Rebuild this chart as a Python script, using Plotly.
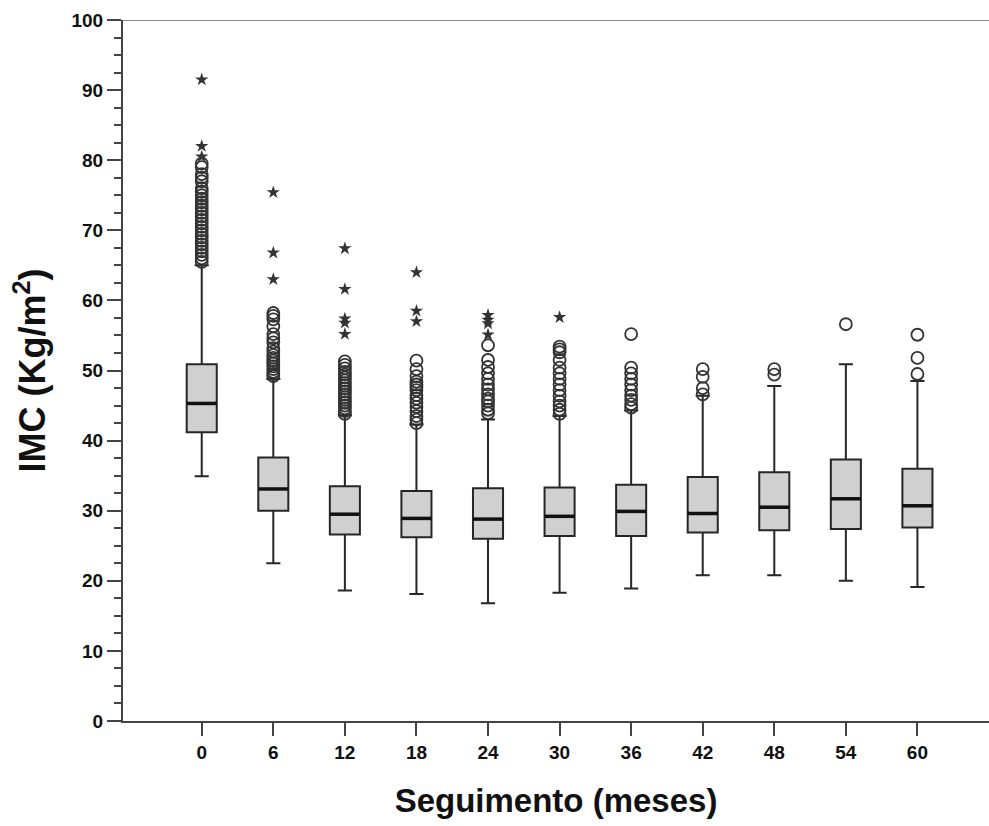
import plotly.graph_objects as go

categories = ["0", "6", "12", "18", "24", "30", "36", "42", "48", "54", "60"]
q1 = [41.2, 30.0, 26.6, 26.2, 26.0, 26.4, 26.4, 26.9, 27.2, 27.4, 27.6]
median = [45.3, 33.1, 29.5, 28.9, 28.8, 29.2, 29.9, 29.6, 30.5, 31.7, 30.7]
q3 = [50.9, 37.6, 33.5, 32.8, 33.2, 33.3, 33.7, 34.8, 35.5, 37.3, 36.0]
lower_whisker = [34.9, 22.5, 18.6, 18.1, 16.8, 18.3, 18.9, 20.8, 20.8, 20.0, 19.1]
upper_whisker = [65.0, 48.8, 43.6, 42.3, 43.0, 43.5, 44.3, 46.4, 47.8, 50.9, 48.5]

circle_outliers = [
    [65.5, 66.0, 66.5, 67.0, 67.5, 68.0, 68.5, 69.0, 69.5, 70.0, 70.5, 71.0, 71.5,
     72.0, 72.5, 73.0, 73.5, 74.0, 74.5, 75.0, 75.5, 76.0, 77.0, 77.5, 78.0, 79.0, 79.5],
    [49.2, 49.5, 49.8, 50.2, 50.6, 51.0, 51.4, 51.8, 52.2, 52.7, 53.2, 54.0, 54.6,
     55.2, 56.3, 57.3, 57.8, 58.2],
    [43.8, 44.2, 44.6, 45.0, 45.4, 45.8, 46.2, 46.6, 47.0, 47.4, 47.8, 48.2, 48.6,
     49.0, 49.4, 49.8, 50.3, 50.8, 51.3],
    [42.5, 43.0, 43.5, 44.2, 44.8, 45.4, 46.0, 46.5, 47.2, 47.6, 48.0, 48.4, 49.2,
     50.2, 51.4],
    [43.9, 44.4, 45.0, 45.6, 46.0, 46.6, 47.3, 48.0, 48.8, 49.6, 50.5, 51.5, 53.6],
    [43.8, 44.4, 45.0, 45.6, 46.4, 47.2, 48.0, 48.8, 49.6, 50.4, 51.5, 52.6, 53.0, 53.4],
    [44.7, 45.2, 45.8, 46.4, 47.2, 48.0, 48.8, 49.6, 50.4, 55.2],
    [46.6, 47.5, 49.1, 50.2],
    [49.4, 50.2],
    [56.6],
    [49.5, 51.8, 55.1],
]
star_outliers = [
    [80.5, 82.0, 91.5],
    [63.0, 66.8, 75.4],
    [55.2, 56.8, 57.4, 61.6, 67.4],
    [57.0, 58.5, 64.0],
    [55.1, 56.7, 57.2, 57.9],
    [57.6],
    [], [], [], [], [],
]

xs = list(range(len(categories)))
box_w = 0.42

fig = go.Figure()
fig.add_trace(go.Box(
    x=xs, q1=q1, median=median, q3=q3,
    lowerfence=lower_whisker, upperfence=upper_whisker,
    width=box_w, whiskerwidth=0.47,
    fillcolor="#d0d0d0", line=dict(color="#262626", width=2),
    boxpoints=False, showlegend=False, hoverinfo="skip",
))

# thick medians
mx, my = [], []
for i, m in zip(xs, median):
    mx += [i - box_w / 2, i + box_w / 2, None]
    my += [m, m, None]
fig.add_trace(go.Scatter(x=mx, y=my, mode="lines",
                         line=dict(color="#111", width=3.5),
                         showlegend=False, hoverinfo="skip"))

cx, cy, sx, sy = [], [], [], []
for i in xs:
    cx += [i] * len(circle_outliers[i]); cy += circle_outliers[i]
    sx += [i] * len(star_outliers[i]); sy += star_outliers[i]

fig.add_trace(go.Scatter(x=cx, y=cy, mode="markers",
                         marker=dict(symbol="circle-open", size=12, color="#333",
                                     line=dict(width=1.8, color="#333")),
                         showlegend=False, hoverinfo="skip"))
fig.add_trace(go.Scatter(x=sx, y=sy, mode="markers",
                         marker=dict(symbol="star", size=10, color="#333",
                                     line=dict(width=0)),
                         showlegend=False, hoverinfo="skip"))

fig.add_shape(type="line", xref="paper", x0=0, x1=1, yref="y", y0=100, y1=100,
              line=dict(color="#888", width=2))

fam = "Liberation Sans, Arial"
tickfont = dict(family=fam, size=19, color="#111")
fig.update_layout(
    width=989, height=826,
    margin=dict(l=123, r=0, t=20, b=105),
    paper_bgcolor="white", plot_bgcolor="white",
    font=dict(family=fam, color="#111"),
    xaxis=dict(
        range=[-1.1, 11.0], tickmode="array", tickvals=xs,
        ticktext=[f"<b>{c}</b>" for c in categories],
        showgrid=False, zeroline=False, showline=True, linecolor="#444", linewidth=2,
        ticks="outside", ticklen=13, tickwidth=2, tickcolor="#444",
        tickfont=tickfont,
        title=dict(text="<b>Seguimento (meses)</b>",
                   font=dict(family=fam, size=33, color="#111"),
                   standoff=27),
    ),
    yaxis=dict(
        range=[0, 100], tickmode="array", tickvals=list(range(0, 101, 10)),
        ticktext=[f"<b>{v}</b>" for v in range(0, 101, 10)],
        showgrid=False, zeroline=False, showline=True, linecolor="#444", linewidth=2,
        ticks="outside", ticklen=14, tickwidth=2, tickcolor="#444",
        minor=dict(tickmode="linear", tick0=0, dtick=2.5, ticks="outside",
                   ticklen=7, tickwidth=1.5, tickcolor="#444"),
        tickfont=tickfont,
        title=dict(text="<b>IMC (Kg/m<sup>2</sup>)</b>",
                   font=dict(family=fam, size=36, color="#111"),
                   standoff=15),
    ),
)

fig.write_html("out.html", config={"displayModeBar": False},
               post_script="document.body.style.margin='0';")
